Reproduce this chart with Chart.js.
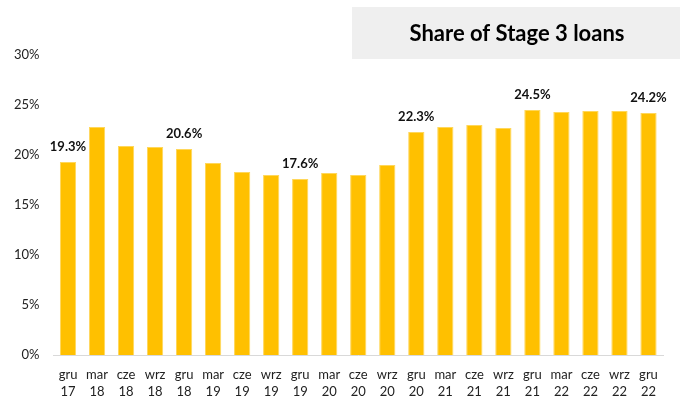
<!DOCTYPE html>
<html>
<head>
<meta charset="utf-8">
<script src="https://cdn.jsdelivr.net/npm/chart.js@4/dist/chart.umd.min.js"></script>
<style>
  html, body { margin: 0; padding: 0; background: #fff; }
  #wrap { width: 680px; height: 404px; position: relative; }
</style>
</head>
<body>
<div id="wrap"><canvas id="c"></canvas></div>
<script>
// Quarter labels (month abbreviation, two-digit year)
const months = ['gru','mar','cze','wrz','gru','mar','cze','wrz','gru','mar','cze','wrz','gru','mar','cze','wrz','gru','mar','cze','wrz','gru'];
const years  = ['17','18','18','18','18','19','19','19','19','20','20','20','20','21','21','21','21','22','22','22','22'];
// Share of Stage 3 loans, %
const stage3Share = [19.3, 22.8, 20.9, 20.8, 20.6, 19.2, 18.3, 18.0, 17.6, 18.2, 18.0, 19.0, 22.3, 22.8, 23.0, 22.7, 24.5, 24.3, 24.4, 24.4, 24.2];
// Bars that carry a value label (year-end points)
const labelledIdx = [0, 4, 8, 12, 16, 20];
const titleText = 'Share of Stage 3 loans';
const yTicks = [0, 5, 10, 15, 20, 25, 30];

const FONT = 'Lato, "Open Sans", sans-serif';

const categories = months.map((m, i) => [m, years[i]]);

// Grey title panel in the upper right corner
const titlePanel = {
  id: 'titlePanel',
  afterDraw(chart) {
    const ctx = chart.ctx;
    ctx.save();
    ctx.fillStyle = '#efefef';
    ctx.fillRect(352, 7, 328, 52);
    ctx.fillStyle = '#000';
    ctx.font = 'bold 22px ' + FONT;
    ctx.textAlign = 'center';
    ctx.textBaseline = 'middle';
    ctx.fillText(titleText, 517, 34);
    ctx.restore();
  }
};

// Value labels above selected bars
const valueLabels = {
  id: 'valueLabels',
  afterDatasetsDraw(chart) {
    const ctx = chart.ctx;
    const meta = chart.getDatasetMeta(0);
    ctx.save();
    ctx.fillStyle = '#111';
    ctx.font = 'bold 13px ' + FONT;
    ctx.textAlign = 'center';
    ctx.textBaseline = 'middle';
    labelledIdx.forEach(i => {
      const el = meta.data[i];
      ctx.fillText(stage3Share[i].toFixed(1) + '%', el.x, el.y - 15);
    });
    ctx.restore();
  }
};

new Chart(document.getElementById('c'), {
  type: 'bar',
  data: {
    labels: categories,
    datasets: [{
      data: stage3Share,
      backgroundColor: '#FFC000',
      borderColor: '#FFD75A',
      borderWidth: 1,
      categoryPercentage: 1.0,
      barPercentage: 0.56
    }]
  },
  options: {
    responsive: true,
    maintainAspectRatio: false,
    animation: false,
    layout: { padding: { left: 0, right: 17, top: 55, bottom: 0 } },
    plugins: {
      legend: { display: false },
      tooltip: { enabled: false },
      title: { display: false }
    },
    scales: {
      x: {
        grid: { display: false, drawTicks: false },
        border: { display: true, color: '#d9d9d9', width: 1 },
        afterFit(axis) { axis.height = 49; },
        ticks: {
          color: '#222',
          font: { family: FONT, size: 13, lineHeight: 1.3 },
          maxRotation: 0,
          autoSkip: false,
          padding: 11
        }
      },
      y: {
        min: 0,
        max: 30,
        afterBuildTicks(axis) { axis.ticks = yTicks.map(v => ({ value: v })); },
        grid: { display: false, drawTicks: false },
        border: { display: false },
        ticks: {
          color: '#222',
          font: { family: FONT, size: 13 },
          padding: 14,
          callback: v => v + '%'
        }
      }
    }
  },
  plugins: [titlePanel, valueLabels]
});
</script>
</body>
</html>
